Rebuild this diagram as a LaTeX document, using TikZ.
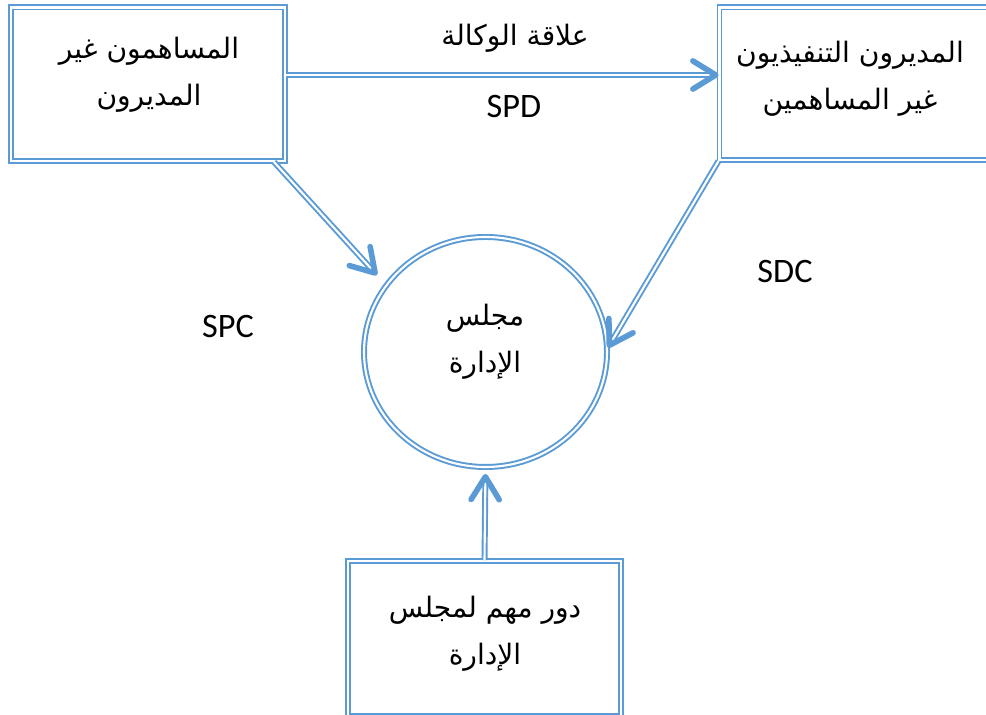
\documentclass[tikz,border=0pt]{standalone}
\usepackage{fontspec}
\usetikzlibrary{shapes.geometric,arrows.meta}
\newfontfamily\arabicfont[Script=Arabic]{DejaVu Sans}
\newfontfamily\latinfont{Carlito}
\TeXXeTstate=1
\definecolor{linkblue}{RGB}{91,155,213}

\begin{document}
\begin{tikzpicture}[
  dblbox/.style={draw=linkblue, double=white, line width=1.1pt, double distance=1.2pt, inner sep=0pt},
  dbllink/.style={draw=linkblue, double=white, line width=1.1pt, double distance=1.2pt, -{Straight Barb[length=13pt, width=16pt, line width=3.2pt, round]}},
  artext/.style={font=\arabicfont\fontsize{16}{26.7}\selectfont, align=center},
  latext/.style={font=\latinfont\fontsize{19.5}{23}\selectfont}
]
\useasboundingbox (0,0) rectangle (19.72,14.3);
\fill[white] (0,0) rectangle (19.72,14.3);

% the three boxes and the board
\node[dblbox, minimum width=5.48cm, minimum height=3.07cm] (owners) at (2.96,12.615) {};
\node[dblbox, minimum width=5.81cm, minimum height=3.05cm] (exec) at (17.295,12.625) {};
\node[dblbox, minimum width=5.46cm, minimum height=3.10cm] (role) at (9.69,1.53) {};
\node[dblbox, ellipse, minimum width=4.86cm, minimum height=4.60cm] (board) at (9.71,7.26) {};

\node[artext] (ownerstext) at (2.98,12.81) {\beginR المساهمون غير\endR\\\beginR المديرون\endR};
\node[artext] (exectext) at (17.0,12.72) {\beginR المديرون التنفيذيون\endR\\\beginR غير المساهمين\endR};
\node[artext] (boardtext) at (9.70,7.47) {\beginR مجلس\endR\\\beginR الإدارة\endR};
\node[artext] (roletext) at (9.70,1.62) {\beginR دور مهم لمجلس\endR\\\beginR الإدارة\endR};

% labels
\node[artext] (agency) at (10.30,13.54) {\beginR علاقة الوكالة\endR};
\node[latext] (spd) at (10.28,12.16) {SPD};
\node[latext] (spc) at (4.56,7.76) {SPC};
\node[latext] (sdc) at (15.70,8.86) {SDC};

% links
\coordinate (agencyfrom) at ([yshift=0.185cm]owners.east);
\coordinate (ownersfoot) at ([xshift=-0.24cm]owners.south east);
\draw[dbllink] (agencyfrom) -- (agencyfrom -| exec.west);
\draw[dbllink, shorten >=7.4pt] (ownersfoot) -- (board.146);
\draw[dbllink] (exec.south west) -- (board.2);
\draw[dbllink, shorten >=3.4pt] (role.north) -- (board.south);

\end{tikzpicture}
\end{document}
